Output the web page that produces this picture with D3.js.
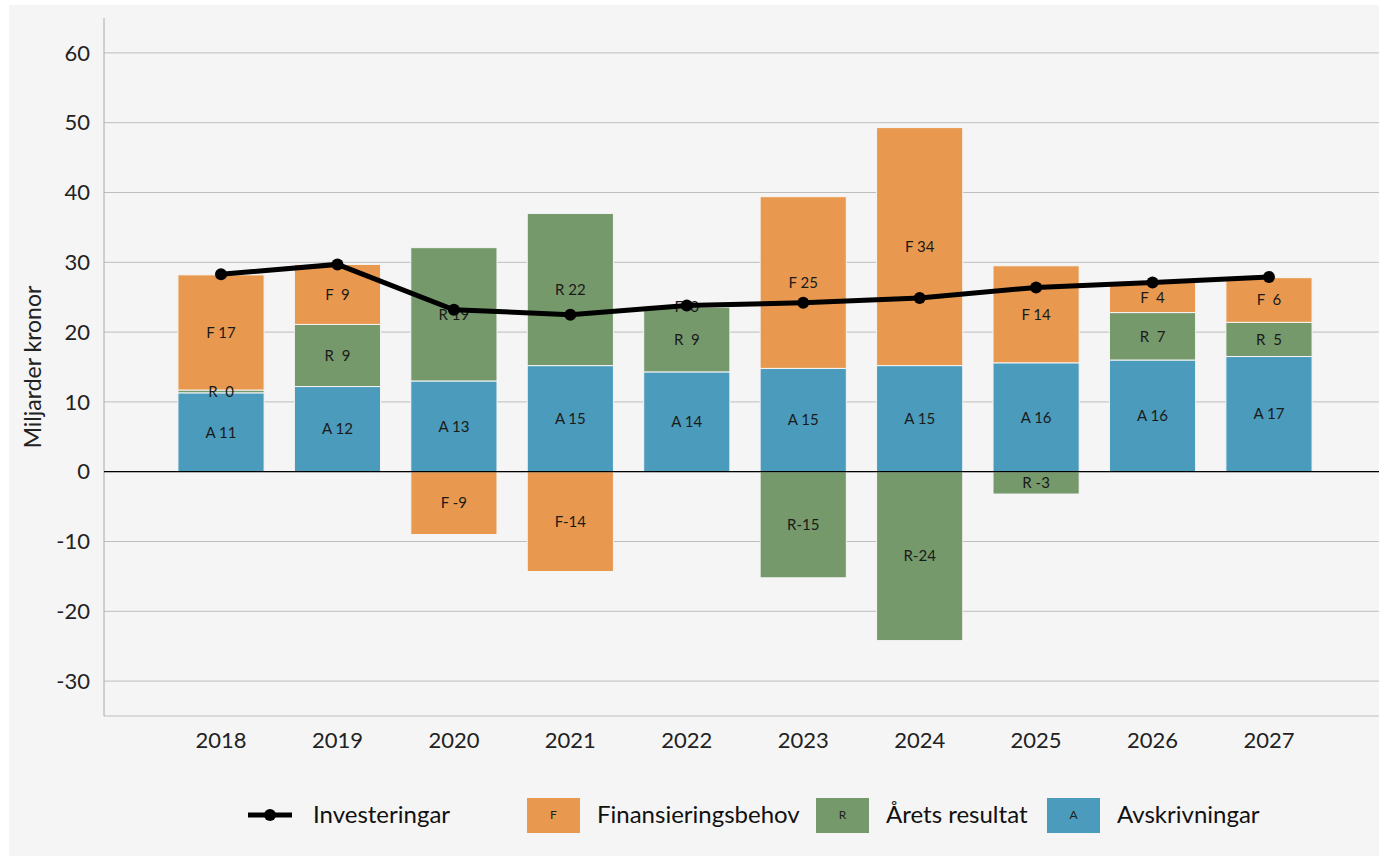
<!DOCTYPE html>
<html>
<head>
<meta charset="utf-8">
<script src="https://cdn.jsdelivr.net/npm/d3@7"></script>
<style>
  body { margin: 0; background: #fff; }
  svg text { font-family: Lato, "Open Sans", sans-serif; }
</style>
</head>
<body>
<svg id="chart" width="1379" height="856"></svg>
<script>
// data (miljarder kronor)
var years = ["2018", "2019", "2020", "2021", "2022", "2023", "2024", "2025", "2026", "2027"];
var avskrivningar = [11.3, 12.2, 13.0, 15.2, 14.3, 14.8, 15.2, 15.6, 16.0, 16.5];
var aretsResultat = [0.4, 8.9, 19.1, 21.8, 9.3, -15.2, -24.2, -3.2, 6.8, 4.9];
var finansieringsbehov = [16.5, 8.6, -9.0, -14.3, 0.2, 24.6, 34.1, 13.9, 4.3, 6.4];
var investeringar = [28.3, 29.7, 23.2, 22.5, 23.8, 24.2, 24.9, 26.4, 27.1, 27.9];
var yTicks = [-30, -20, -10, 0, 10, 20, 30, 40, 50, 60];

var series = [
  { key: "A", name: "Avskrivningar", values: avskrivningar, color: "#4b9bbc" },
  { key: "R", name: "Årets resultat", values: aretsResultat, color: "#76996c" },
  { key: "F", name: "Finansieringsbehov", values: finansieringsbehov, color: "#e9994f" }
];

var svg = d3.select("#chart");

svg.append("rect")
  .attr("x", 9).attr("y", 5)
  .attr("width", 1379 - 9).attr("height", 856 - 5)
  .attr("fill", "#f5f5f5");

var plotLeft = 104, plotRight = 1379, plotTop = 18, plotBottom = 716;

var x = d3.scaleBand()
  .domain(years)
  .range([plotLeft, 1386])
  .paddingInner(0.26)
  .paddingOuter(0.635);

var y = d3.scaleLinear()
  .domain([-35, 65])
  .range([plotBottom, plotTop]);

// grid
svg.append("g").selectAll("line")
  .data(yTicks)
  .enter().append("line")
  .attr("x1", plotLeft).attr("x2", plotRight)
  .attr("y1", d => y(d)).attr("y2", d => y(d))
  .attr("stroke", "#bdbdbd")
  .attr("stroke-width", 1);

svg.append("line")
  .attr("x1", plotLeft).attr("x2", plotRight)
  .attr("y1", plotBottom).attr("y2", plotBottom)
  .attr("stroke", "#bdbdbd");

svg.append("line")
  .attr("x1", plotLeft).attr("x2", plotLeft)
  .attr("y1", plotTop).attr("y2", plotBottom)
  .attr("stroke", "#aaa");

// y axis labels
svg.append("g").selectAll("text")
  .data(yTicks)
  .enter().append("text")
  .attr("x", 90)
  .attr("y", d => y(d))
  .attr("dy", "0.35em")
  .attr("text-anchor", "end")
  .attr("font-size", 22)
  .attr("fill", "#222")
  .text(d => d);

svg.append("text")
  .attr("transform", "translate(41," + 367 + ") rotate(-90)")
  .attr("text-anchor", "middle")
  .attr("font-size", 23)
  .attr("fill", "#222")
  .text("Miljarder kronor");

// x labels
svg.append("g").selectAll("text")
  .data(years)
  .enter().append("text")
  .attr("x", d => x(d) + x.bandwidth() / 2)
  .attr("y", 748)
  .attr("text-anchor", "middle")
  .attr("font-size", 22)
  .attr("fill", "#222")
  .text(d => d);

// stacked segments, positives and negatives stacked separately
var segs = [];
years.forEach(function(yr, i) {
  var pos = 0, neg = 0;
  series.forEach(function(s) {
    var v = s.values[i];
    var y0, y1;
    if (v >= 0) { y0 = pos; y1 = pos + v; pos = y1; }
    else { y0 = neg; y1 = neg + v; neg = y1; }
    segs.push({ year: yr, key: s.key, color: s.color, v: v, y0: y0, y1: y1 });
  });
});

svg.append("g").selectAll("rect")
  .data(segs)
  .enter().append("rect")
  .attr("x", d => x(d.year))
  .attr("width", x.bandwidth())
  .attr("y", d => y(Math.max(d.y0, d.y1)))
  .attr("height", d => Math.abs(y(d.y0) - y(d.y1)))
  .attr("fill", d => d.color)
  .attr("stroke", "#f5f5f5")
  .attr("stroke-width", 1);

svg.append("g").selectAll("text")
  .data(segs)
  .enter().append("text")
  .attr("x", d => x(d.year) + x.bandwidth() / 2)
  .attr("y", d => y((d.y0 + d.y1) / 2))
  .attr("dy", "0.35em")
  .attr("text-anchor", "middle")
  .attr("font-size", 15)
  .attr("fill", "#1a1a1a")
  .style("white-space", "pre")
  .text(d => d.key + String(Math.round(d.v)).padStart(3, " "));

// zero line
svg.append("line")
  .attr("x1", plotLeft).attr("x2", plotRight)
  .attr("y1", y(0)).attr("y2", y(0))
  .attr("stroke", "#000")
  .attr("stroke-width", 1.2);

// investeringar line
var line = d3.line()
  .x((d, i) => x(years[i]) + x.bandwidth() / 2)
  .y(d => y(d));

svg.append("path")
  .datum(investeringar)
  .attr("d", line)
  .attr("fill", "none")
  .attr("stroke", "#000")
  .attr("stroke-width", 5);

svg.append("g").selectAll("circle")
  .data(investeringar)
  .enter().append("circle")
  .attr("cx", (d, i) => x(years[i]) + x.bandwidth() / 2)
  .attr("cy", d => y(d))
  .attr("r", 6)
  .attr("fill", "#000");

// legend
var lg = svg.append("g");
lg.append("line")
  .attr("x1", 248).attr("x2", 292)
  .attr("y1", 815).attr("y2", 815)
  .attr("stroke", "#000").attr("stroke-width", 5);
lg.append("circle").attr("cx", 270).attr("cy", 815).attr("r", 6).attr("fill", "#000");
lg.append("text")
  .attr("x", 313).attr("y", 815).attr("dy", "0.35em")
  .attr("font-size", 24).attr("fill", "#111")
  .text("Investeringar");

var legendItems = [
  { s: series[2], x: 527 },
  { s: series[1], x: 816 },
  { s: series[0], x: 1047 }
];
legendItems.forEach(function(d) {
  lg.append("rect")
    .attr("x", d.x).attr("y", 798)
    .attr("width", 53).attr("height", 35)
    .attr("fill", d.s.color);
  lg.append("text")
    .attr("x", d.x + 26.5).attr("y", 815).attr("dy", "0.35em")
    .attr("text-anchor", "middle")
    .attr("font-size", 12).attr("fill", "#222")
    .text(d.s.key);
  lg.append("text")
    .attr("x", d.x + 70).attr("y", 815).attr("dy", "0.35em")
    .attr("font-size", 24).attr("fill", "#111")
    .text(d.s.name);
});
</script>
</body>
</html>
